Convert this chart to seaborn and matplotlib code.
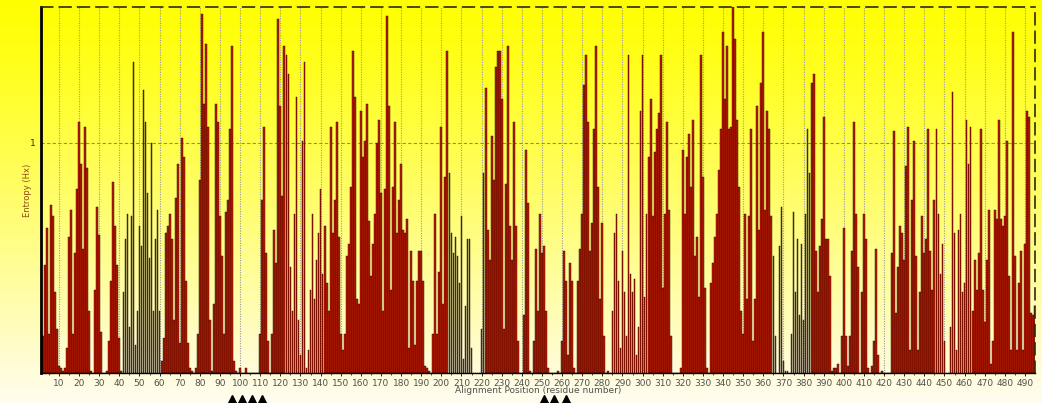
import numpy as np
import matplotlib
matplotlib.use("Agg")
import matplotlib.pyplot as plt
import matplotlib.transforms as mtransforms
import seaborn as sns

# ---------------- data ----------------
positions = list(range(1, 496))
entropy = [
    0.03, 0.16, 0.47, 0.63, 0.17, 0.73, 0.68, 0.35, 0.19, 0.03,
    0.02, 0.01, 0.02, 0.11, 0.59, 0.71, 0.17, 0.52, 0.80, 1.09,
    0.91, 0.54, 1.07, 0.89, 0.27, 0.01, 0.00, 0.36, 0.72, 0.60,
    0.18, 0.00, 0.00, 0.01, 0.14, 0.40, 0.83, 0.64, 0.47, 0.15,
    0.01, 0.35, 0.58, 0.69, 0.20, 0.68, 1.35, 0.12, 0.27, 0.64,
    0.55, 1.23, 1.09, 0.78, 0.50, 1.00, 0.27, 0.58, 0.71, 0.27,
    0.05, 0.15, 0.61, 0.64, 0.69, 0.58, 0.23, 0.76, 0.91, 0.13,
    1.02, 0.94, 0.40, 0.13, 0.02, 0.01, 0.00, 0.02, 0.17, 0.84,
    1.56, 1.17, 1.43, 1.07, 0.23, 0.01, 0.30, 1.17, 1.09, 0.68,
    0.51, 0.17, 0.70, 0.75, 1.06, 1.42, 0.05, 0.01, 0.00, 0.02,
    0.00, 0.00, 0.02, 0.00, 0.00, 0.00, 0.00, 0.00, 0.00, 0.17,
    0.75, 1.07, 0.52, 0.14, 0.00, 0.17, 0.62, 0.48, 1.54, 1.16,
    0.77, 1.42, 1.38, 1.30, 0.46, 0.27, 0.69, 1.20, 0.23, 0.08,
    1.01, 1.35, 0.02, 0.10, 0.36, 0.69, 0.32, 0.49, 0.61, 0.80,
    0.43, 0.64, 0.39, 0.27, 1.07, 0.61, 0.75, 1.09, 0.59, 0.17,
    0.10, 0.17, 0.51, 0.56, 0.81, 1.40, 1.20, 0.32, 0.30, 1.14,
    0.94, 1.01, 1.17, 0.66, 0.42, 0.56, 0.69, 1.00, 1.10, 0.78,
    0.27, 0.80, 1.55, 1.16, 0.36, 0.81, 1.09, 0.61, 0.75, 0.91,
    0.62, 0.61, 0.67, 0.11, 0.53, 0.40, 0.12, 0.40, 0.53, 0.53,
    0.40, 0.03, 0.02, 0.01, 0.00, 0.17, 0.69, 0.17, 0.44, 1.07,
    0.30, 0.85, 1.40, 0.87, 0.61, 0.52, 0.59, 0.51, 0.39, 0.68,
    0.06, 0.29, 0.58, 0.58, 0.11, 0.00, 0.00, 0.00, 0.00, 0.19,
    0.87, 1.24, 0.62, 0.49, 1.03, 0.84, 1.33, 1.40, 1.40, 1.19,
    0.19, 0.82, 1.42, 0.64, 0.49, 1.09, 0.64, 0.14, 0.00, 0.00,
    0.25, 0.97, 0.74, 0.01, 0.00, 0.14, 0.54, 0.27, 0.69, 0.52,
    0.55, 0.27, 0.02, 0.00, 0.00, 0.00, 0.00, 0.01, 0.00, 0.14,
    0.53, 0.40, 0.08, 0.48, 0.40, 0.02, 0.00, 0.40, 0.54, 0.69,
    1.25, 1.38, 1.09, 0.53, 0.65, 1.06, 1.42, 0.81, 0.32, 0.65,
    0.16, 0.00, 0.01, 0.00, 0.27, 0.61, 0.69, 0.40, 0.11, 0.53,
    0.35, 0.16, 1.38, 0.43, 0.35, 0.41, 0.08, 0.20, 1.14, 1.38,
    0.33, 0.69, 0.94, 1.19, 0.68, 0.96, 1.06, 1.13, 1.38, 0.37,
    0.69, 1.09, 0.71, 0.16, 0.00, 0.00, 0.00, 0.00, 0.02, 0.97,
    0.69, 0.94, 1.04, 0.81, 1.10, 0.51, 0.59, 0.33, 1.38, 0.85,
    0.37, 0.02, 0.00, 0.39, 0.48, 0.59, 0.69, 0.88, 1.06, 1.48,
    1.19, 1.42, 1.06, 1.07, 1.59, 1.45, 1.10, 0.81, 0.27, 0.17,
    0.69, 0.32, 0.68, 1.06, 0.14, 0.32, 1.16, 0.62, 1.26, 1.48,
    0.71, 1.14, 1.06, 0.68, 0.51, 0.16, 0.00, 0.55, 0.72, 0.05,
    0.01, 0.01, 0.00, 0.17, 0.70, 0.35, 0.58, 0.25, 0.56, 0.23,
    0.69, 1.06, 0.87, 1.26, 1.30, 0.53, 0.35, 0.55, 0.67, 1.11,
    0.58, 0.58, 0.42, 0.01, 0.02, 0.02, 0.04, 0.00, 0.16, 0.63,
    0.16, 0.03, 0.16, 0.53, 1.09, 0.69, 0.46, 0.00, 0.35, 0.69,
    0.58, 0.02, 0.00, 0.03, 0.14, 0.54, 0.08, 0.00, 0.01, 0.00,
    0.00, 0.00, 0.00, 0.52, 1.05, 0.26, 0.46, 0.64, 0.61, 0.49,
    0.90, 1.07, 0.10, 0.75, 1.01, 0.51, 0.10, 0.35, 0.68, 0.52,
    0.58, 1.06, 0.53, 0.36, 0.75, 1.06, 0.69, 0.43, 0.56, 0.14,
    0.00, 0.00, 0.20, 1.22, 0.61, 0.10, 0.62, 0.69, 0.35, 0.39,
    1.10, 0.91, 1.07, 0.27, 0.49, 0.36, 0.52, 1.06, 0.36, 0.22,
    0.49, 0.71, 0.04, 0.14, 0.71, 0.67, 1.10, 0.67, 0.64, 0.68,
    1.01, 0.42, 0.10, 1.48, 0.51, 0.10, 0.39, 0.53, 0.10, 0.56,
    1.14, 1.11, 0.26, 0.25, 0.29,
]
x_ticks = list(range(10, 491, 10))
y_ticks = [1]
marked_sites = [96, 101, 106, 111, 251, 256, 262]

# ---------------- figure ----------------
sns.set_style("white")
plt.rcParams['font.family'] = ['DejaVu Sans']

W, H = 1042, 403
fig = plt.figure(figsize=(W / 100, H / 100), dpi=100)

# background gradient (yellow -> cream)
bg = fig.add_axes([0, 0, 1, 1], zorder=-10)
t = np.linspace(0, 1, 256)[:, None]
blue = 0.94 * t ** 1.15
grad = np.dstack([np.ones_like(t), np.ones_like(t) * (1 - 0.01 * t), blue])
bg.imshow(grad, aspect="auto", extent=[0, 1, 0, 1], origin="upper")
bg.set_axis_off()

ax = fig.add_axes([41 / W, (H - 373) / H, (1035 - 41) / W, (373 - 7) / H])
ax.set_facecolor("none")

sns.barplot(x=positions, y=entropy, native_scale=True, width=0.88,
            color="#C21A00", edgecolor="#1a0500", linewidth=0.3,
            errorbar=None, saturation=1, ax=ax, zorder=2)

ax.set_xlim(1.06, 495.0)
ax.set_ylim(0, 1.59)

# grid lines
for xv in x_ticks:
    ax.axvline(xv, color="#9a9a9a", linestyle=(0, (1, 1.2)), linewidth=0.8, zorder=1)
ax.axhline(1, color="#8a8a8a", linestyle=(0, (3, 2)), linewidth=0.8, zorder=1)

ax.set_xticks(x_ticks)
ax.set_xticklabels([str(v) for v in x_ticks], fontsize=6.5, color="#505050")
ax.set_xticks(range(5, 495, 5), minor=True)
ax.tick_params(axis="x", which="major", length=2.5, width=0.6, color="black",
               pad=1.5, direction="out", bottom=True)
ax.tick_params(axis="x", which="minor", length=1.5, width=0.5, color="black",
               bottom=True)
ax.set_yticks(y_ticks)
ax.set_yticklabels(["1"], fontsize=6.5, color="#303030")
ax.tick_params(axis="y", length=0, pad=4)

ax.set_xlabel("Alignment Position (residue number)", fontsize=6.5,
              color="#505050", labelpad=-1)
ax.set_ylabel("Entropy (Hx)", fontsize=6, color="#8B4A10", labelpad=-2)

# spines
for side in ["top", "right"]:
    ax.spines[side].set_visible(True)
    ax.spines[side].set_color("#2a2a10")
    ax.spines[side].set_linewidth(1.2)
    ax.spines[side].set_linestyle((0, (7, 4)))
ax.spines["left"].set_color("black")
ax.spines["left"].set_linewidth(2.0)
ax.spines["bottom"].set_color("black")
ax.spines["bottom"].set_linewidth(1.0)

# triangle markers below the axis
trans = mtransforms.blended_transform_factory(ax.transData, ax.transAxes)
ax.plot(marked_sites, [-0.074] * len(marked_sites), linestyle="none",
        marker="^", markersize=7.5, color="black", transform=trans,
        clip_on=False, zorder=5)

fig.savefig("out.png", dpi=100)
